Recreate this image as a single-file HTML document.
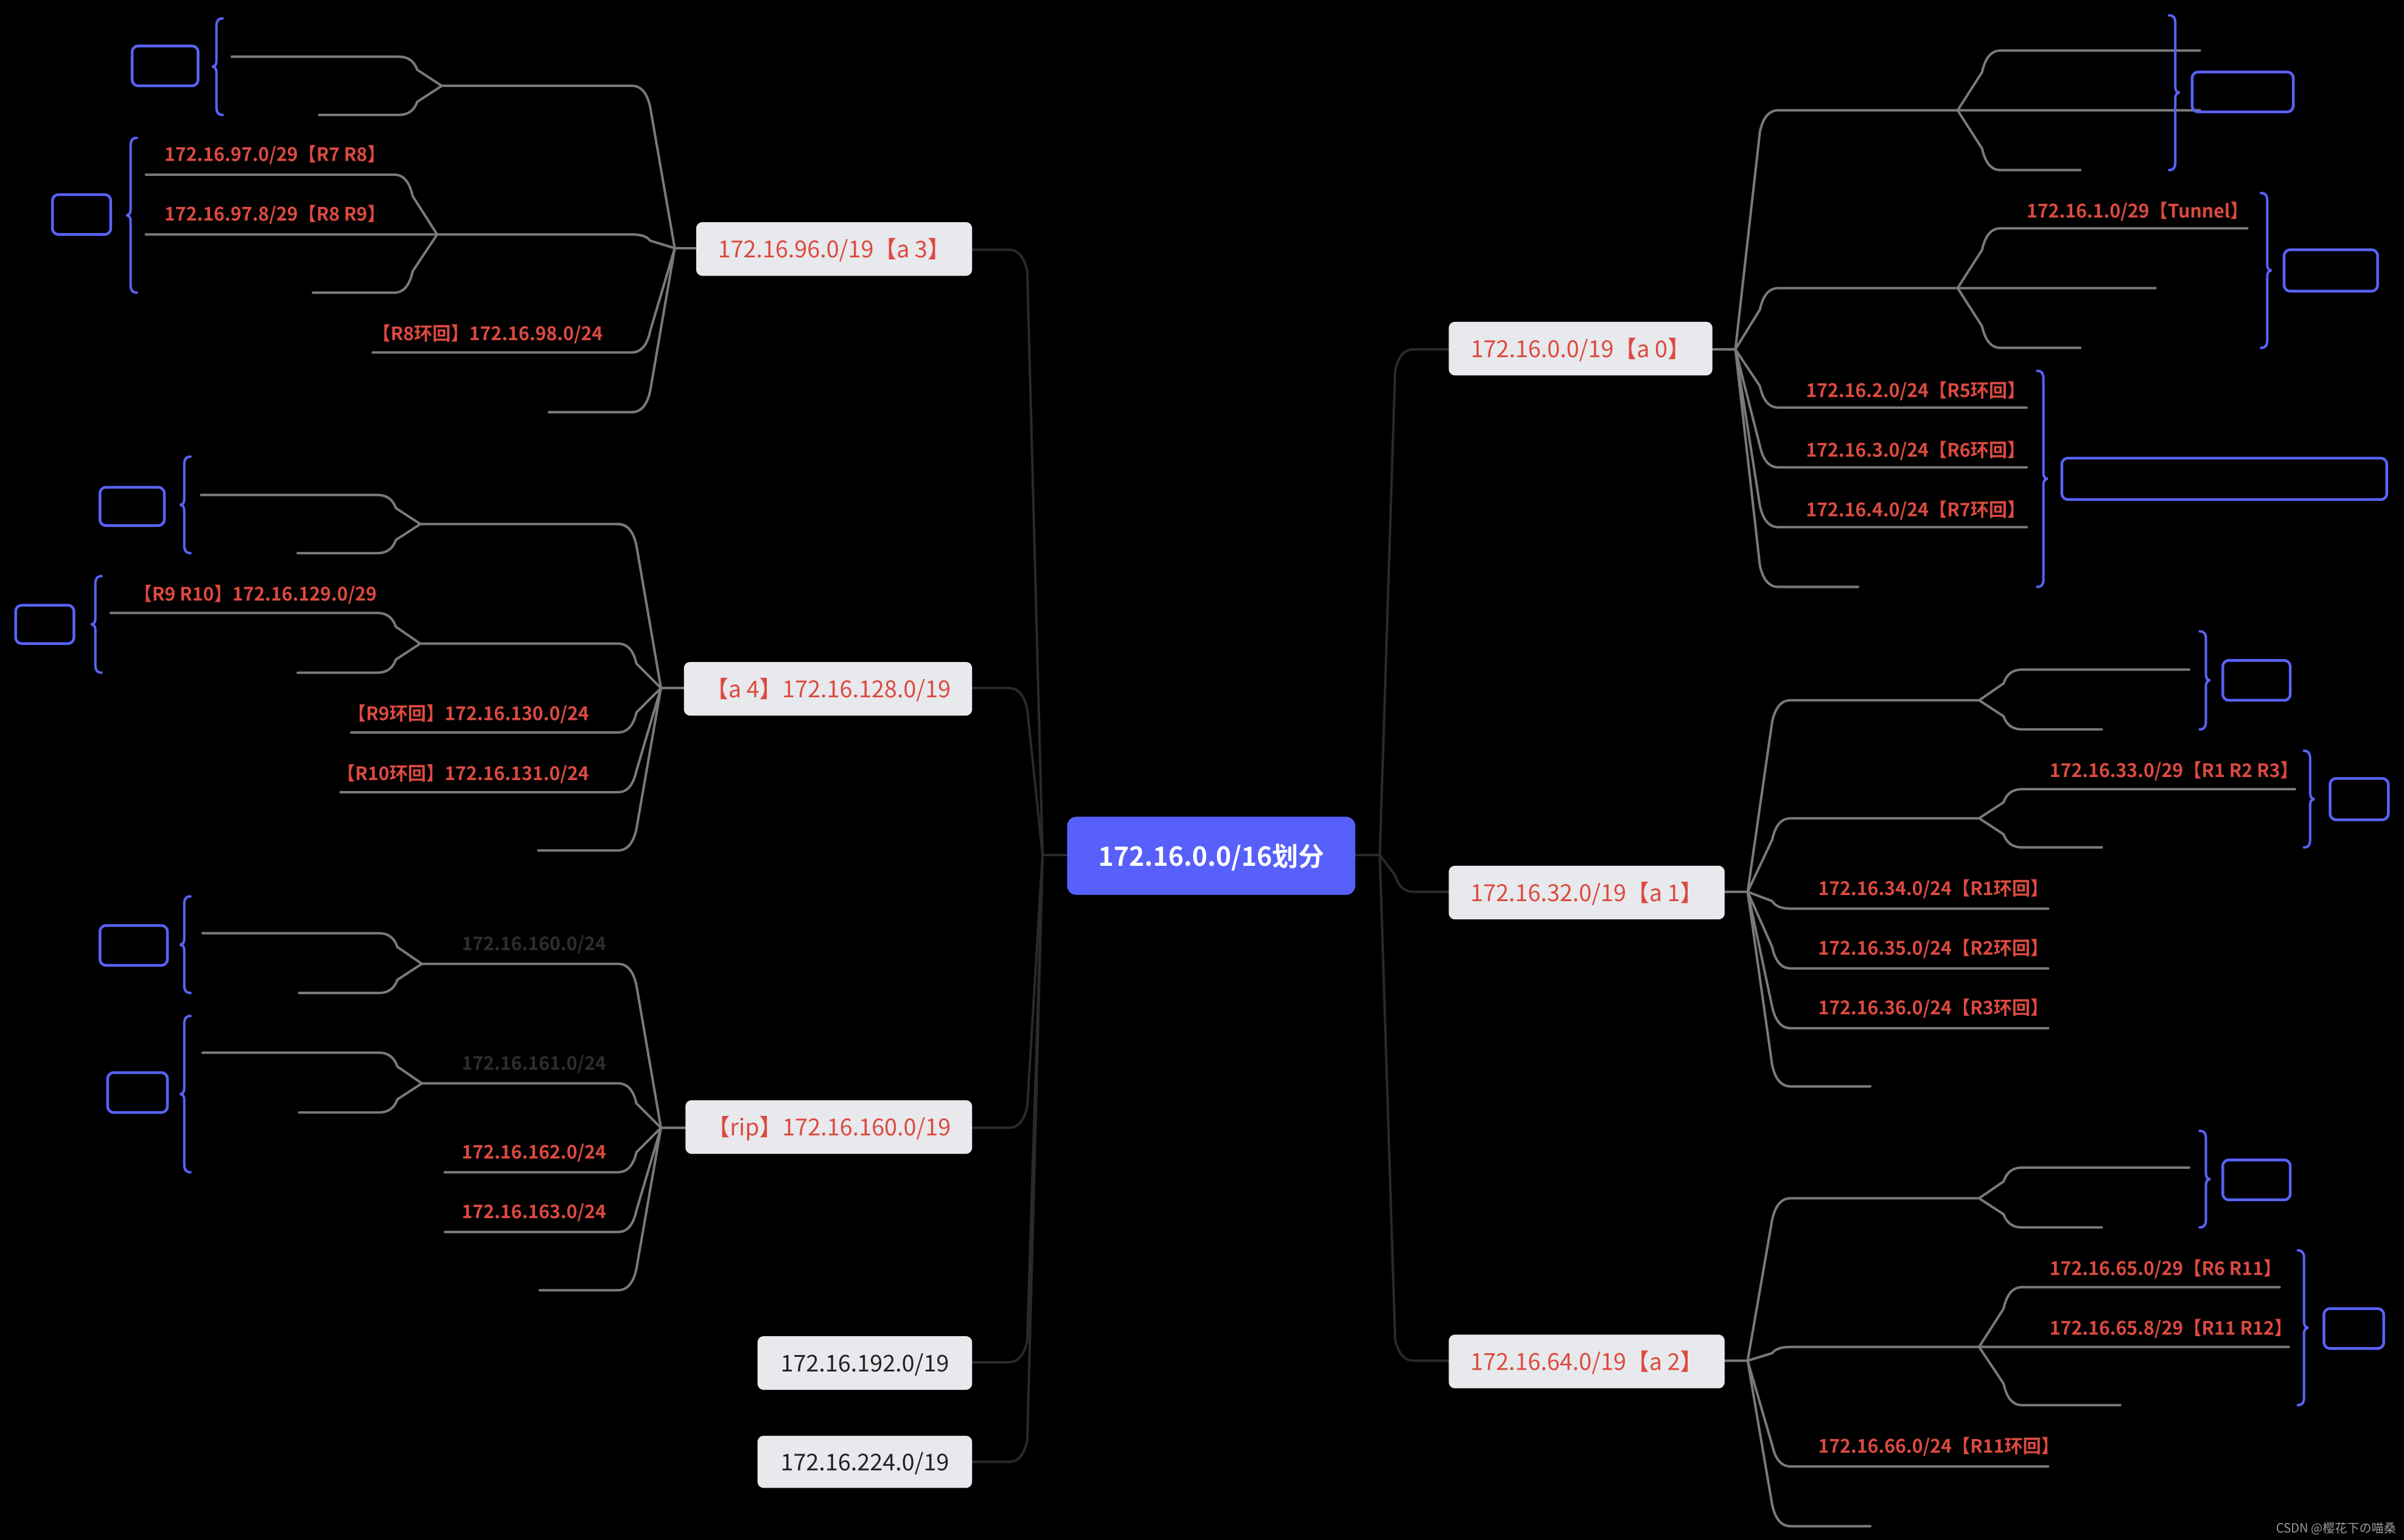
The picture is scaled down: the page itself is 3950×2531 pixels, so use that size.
<!DOCTYPE html>
<html><head><meta charset="utf-8"><style>
html,body{margin:0;padding:0;background:#000;width:3950px;height:2531px;overflow:hidden}
svg{display:block}
text{font-family:"Noto Sans CJK SC","Liberation Sans",sans-serif}
</style></head><body>
<svg id="s" width="3950" height="2531" viewBox="0 0 1568 1005" xmlns="http://www.w3.org/2000/svg">
<rect x="0" y="0" width="1568" height="1005" fill="#000"/>
<g id="lines" fill="none" stroke-width="1.6" stroke-linecap="round"></g>
<g id="nodes"></g>
<g id="labels"></g>
</svg>
<script>
var NS="http://www.w3.org/2000/svg";
var L=document.getElementById('lines'),N=document.getElementById('nodes'),T=document.getElementById('labels');
function el(p,tag,a,txt){var e=document.createElementNS(NS,tag);for(var k in a)e.setAttribute(k,a[k]);if(txt)e.textContent=txt;p.appendChild(e);return e;}
function conn(x0,y0,x1,y1,xe,col){
  col=col||'#7a7a7a';
  var d=Math.sign(x1-x0)||1, dy=y1-y0, s=Math.sign(dy);
  var p;
  if(Math.abs(dy)<1){p='M'+x0+' '+y0+' L'+xe+' '+y1;}
  else{
    var r=Math.min(14,Math.abs(dy)*0.45);
    var cx=x1-d*6;
    p='M'+x0+' '+y0+' L'+cx+' '+(y1-s*r)+' Q'+(cx+d*3)+' '+y1+' '+(x1+d*6)+' '+y1+' L'+xe+' '+y1;
  }
  el(L,'path',{d:p,stroke:col});
}
function hl(x0,x1,y,col){el(L,'path',{d:'M'+x0+' '+y+' L'+x1+' '+y,stroke:col||'#7a7a7a'});}
function lab(x,y,t,col,size,anchor){el(T,'text',{x:x,y:y,fill:col||'#dd4a40','font-size':size||12,'font-weight':'bold','text-anchor':anchor||'start'},t);}
function brace(x,y0,y1,dir){
  var m=(y0+y1)/2,c='#5863f8';
  var d='M'+x+' '+y0+' Q'+(x+dir*4)+' '+y0+' '+(x+dir*4)+' '+(y0+5)+' L'+(x+dir*4)+' '+(m-4)+' Q'+(x+dir*4)+' '+m+' '+(x+dir*7)+' '+m+' Q'+(x+dir*4)+' '+m+' '+(x+dir*4)+' '+(m+4)+' L'+(x+dir*4)+' '+(y1-5)+' Q'+(x+dir*4)+' '+y1+' '+x+' '+y1;
  el(L,'path',{d:d,stroke:c,'stroke-width':1.6});
}
function bbox(x0,y0,x1,y1){el(N,'rect',{x:x0,y:y0,width:x1-x0,height:y1-y0,rx:4,fill:'none',stroke:'#5863f8','stroke-width':1.8});}
function node(x0,y0,x1,y1,t,col){el(N,'rect',{x:x0,y:y0,width:x1-x0,height:y1-y0,rx:4,fill:'#e8e9ec'});
  el(T,'text',{x:(x0+x1)/2,y:(y0+y1)/2+5.5,fill:col,'font-size':15,'text-anchor':'middle'},t);}

el(N,'rect',{x:696,y:533,width:188,height:51,rx:6,fill:'#5760fb'});
el(T,'text',{x:790,y:565,fill:'#fff','font-size':17,'font-weight':'bold','text-anchor':'middle'},'172.16.0.0/16划分');
var DK='#2a2a2a';
hl(884,900,558,DK);
[228,582,888].forEach(function(y){conn(900,558,916,y,945,DK);});
hl(680,696,558,DK);
[163,449,736,889,954].forEach(function(y){conn(680,558,664,y,634,DK);});

node(945,210,1117,245,'172.16.0.0/19【a 0】','#dd4a40');
hl(1117,1132,228);
conn(1132,228,1154,72,1277);conn(1132,228,1154,188,1277);
conn(1132,228,1154,266,1322);conn(1132,228,1154,305,1322);conn(1132,228,1154,344,1322);conn(1132,228,1154,383,1212);
conn(1277,72,1299,33,1435);hl(1277,1435,72);conn(1277,72,1299,111,1357);
brace(1415,10,111,1);bbox(1430,47,1496,73);
conn(1277,188,1299,149,1466);hl(1277,1406,188);conn(1277,188,1299,227,1357);
lab(1322,142,'172.16.1.0/29【Tunnel】');
brace(1475,126,227,1);bbox(1490,163,1551,190);
lab(1178,259,'172.16.2.0/24【R5环回】');lab(1178,298,'172.16.3.0/24【R6环回】');lab(1178,337,'172.16.4.0/24【R7环回】');
brace(1329,242,383,1);bbox(1345,299,1557,326);

node(945,565,1125,600,'172.16.32.0/19【a 1】','#dd4a40');
hl(1125,1140,582);
conn(1140,582,1162,457,1291);conn(1140,582,1162,534,1291);
conn(1140,582,1162,593,1336);conn(1140,582,1162,632,1336);conn(1140,582,1162,671,1336);conn(1140,582,1162,709,1220);
conn(1291,457,1313,437,1428);conn(1291,457,1313,476,1371);
brace(1435,412,476,1);bbox(1450,431,1494,457);
conn(1291,534,1313,515,1497);conn(1291,534,1313,553,1371);
lab(1337,507,'172.16.33.0/29【R1 R2 R3】');
brace(1503,490,553,1);bbox(1520,508,1558,535);
lab(1186,584,'172.16.34.0/24【R1环回】');lab(1186,623,'172.16.35.0/24【R2环回】');lab(1186,662,'172.16.36.0/24【R3环回】');

node(945,871,1125,906,'172.16.64.0/19【a 2】','#dd4a40');
hl(1125,1140,888);
conn(1140,888,1162,782,1291);conn(1140,888,1162,879,1291);conn(1140,888,1162,957,1336);conn(1140,888,1162,996,1220);
conn(1291,782,1313,762,1428);conn(1291,782,1313,801,1371);
brace(1435,738,801,1);bbox(1450,757,1494,783);
conn(1291,879,1313,840,1487);hl(1291,1493,879);conn(1291,879,1313,917,1383);
lab(1337,832,'172.16.65.0/29【R6 R11】');lab(1337,871,'172.16.65.8/29【R11 R12】');
brace(1499,816,917,1);bbox(1516,854,1555,880);
lab(1186,948,'172.16.66.0/24【R11环回】');

node(454,145,634,180,'172.16.96.0/19【a 3】','#dd4a40');
hl(454,440,162);
conn(440,162,418,56,288);conn(440,162,418,153,285);conn(440,162,418,230,243);conn(440,162,418,269,358);
conn(288,56,266,37,151);conn(288,56,266,75,208);
brace(145,12,75,-1);bbox(86,30,129,56);
conn(285,153,263,114,95);hl(285,95,153);conn(285,153,263,191,204);
lab(107,105,'172.16.97.0/29【R7 R8】');lab(107,144,'172.16.97.8/29【R8 R9】');
brace(89,90,191,-1);bbox(34,127,72,153);
lab(393,222,'【R8环回】172.16.98.0/24','#dd4a40',12,'end');

node(446,432,634,467,'【a 4】172.16.128.0/19','#dd4a40');
hl(446,431,449);
conn(431,449,409,342,274);conn(431,449,409,420,274);conn(431,449,409,478,229);conn(431,449,409,517,222);conn(431,449,409,555,351);
conn(274,342,252,323,131);conn(274,342,252,361,194);
brace(124,298,361,-1);bbox(65,318,107,343);
conn(274,420,252,400,72);conn(274,420,252,439,194);
brace(66,376,439,-1);bbox(10,395,48,420);
lab(87,392,'【R9 R10】172.16.129.0/29');
lab(384,470,'【R9环回】172.16.130.0/24','#dd4a40',12,'end');
lab(384,509,'【R10环回】172.16.131.0/24','#dd4a40',12,'end');

node(447,718,634,753,'【rip】172.16.160.0/19','#dd4a40');
hl(447,431,736);
conn(431,736,409,629,275);conn(431,736,409,707,275);conn(431,736,409,765,290);conn(431,736,409,804,290);conn(431,736,409,842,352);
conn(275,629,253,609,132);conn(275,629,253,648,195);
conn(275,707,253,687,132);conn(275,707,253,726,195);
lab(301,620,'172.16.160.0/24','#2e2e2e');lab(301,698,'172.16.161.0/24','#2e2e2e');
brace(124,585,648,-1);bbox(65,604,109,630);
brace(124,663,765,-1);bbox(70,700,109,726);
lab(301,756,'172.16.162.0/24');lab(301,795,'172.16.163.0/24');

node(494,872,634,907,'172.16.192.0/19','#222');
node(494,937,634,971,'172.16.224.0/19','#222');

el(T,'text',{x:1563,y:1000,fill:'#9a9a9a','font-size':8,'text-anchor':'end'},'CSDN @樱花下の喵桑');
</script>
</body></html>
